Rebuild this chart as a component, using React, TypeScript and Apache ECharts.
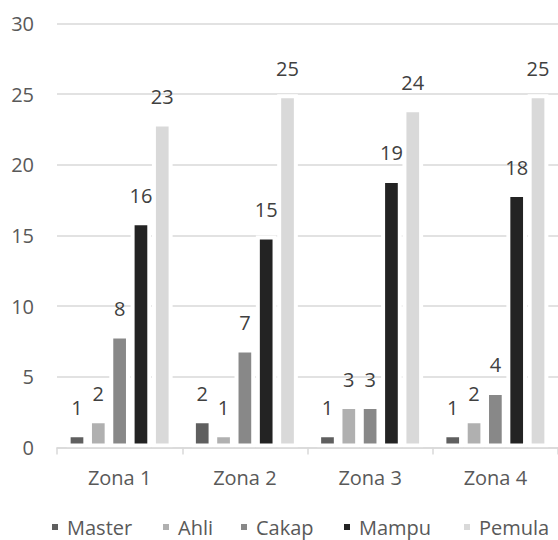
import React, { useEffect, useRef } from "react";
import * as echarts from "echarts";

const categories = ["Zona 1", "Zona 2", "Zona 3", "Zona 4"];
const seriesNames = ["Master", "Ahli", "Cakap", "Mampu", "Pemula"];
const master = [1, 2, 1, 1];
const ahli = [2, 1, 3, 2];
const cakap = [8, 7, 3, 4];
const mampu = [16, 15, 19, 18];
const pemula = [23, 25, 24, 25];
const colors = ["#5f5f5f", "#b0b0b0", "#888888", "#232323", "#d9d9d9"];
const yTicks = [0, 5, 10, 15, 20, 25, 30];
const legendLefts = [50, 161, 239, 342, 462];

export default function App() {
  const ref = useRef<HTMLDivElement>(null);
  useEffect(() => {
    document.body.style.margin = "0";
    const chart = echarts.init(ref.current!, null, { renderer: "svg" });
    const values = [master, ahli, cakap, mampu, pemula];
    const font = "'Open Sans', 'Noto Sans', sans-serif";
    chart.setOption({
      animation: false,
      textStyle: { fontFamily: font },
      grid: { left: 57, right: -6, top: 23.5, bottom: 92.5, containLabel: false },
      legend: seriesNames.map((name, i) => ({
        data: [name],
        left: legendLefts[i],
        top: 516,
        padding: 0,
        icon: "rect",
        itemWidth: 8,
        itemHeight: 8,
        textStyle: { fontSize: 20, lineHeight: 22, color: "#595959", fontFamily: font, padding: [0, 0, 0, 3] },
      })),
      xAxis: {
        type: "category",
        data: categories,
        z: 10,
        axisLine: { lineStyle: { color: "#d9d9d9", width: 1.5 } },
        axisTick: { show: true, length: 7, lineStyle: { color: "#d9d9d9", width: 1.5 } },
        axisLabel: { fontSize: 20, color: "#595959", margin: 20, fontFamily: font },
      },
      yAxis: {
        type: "value",
        min: yTicks[0],
        max: yTicks[yTicks.length - 1],
        interval: 5,
        axisLine: { show: false },
        axisTick: { show: false },
        splitLine: { lineStyle: { color: "#d9d9d9", width: 1.5 } },
        axisLabel: { fontSize: 20, color: "#595959", margin: 23, fontFamily: font },
      },
      series: seriesNames.map((name, i) => ({
        name,
        type: "bar",
        data: values[i],
        barWidth: 20.7,
        barGap: "3%",
        itemStyle: { color: colors[i], borderColor: "#ffffff", borderWidth: 4 },
        label: {
          show: true,
          position: "top",
          distance: 16,
          fontSize: 20,
          color: "#404040",
          fontFamily: font,
        },
      })),
    });
    return () => chart.dispose();
  }, []);
  return <div ref={ref} style={{ width: 558, height: 540 }} />;
}
